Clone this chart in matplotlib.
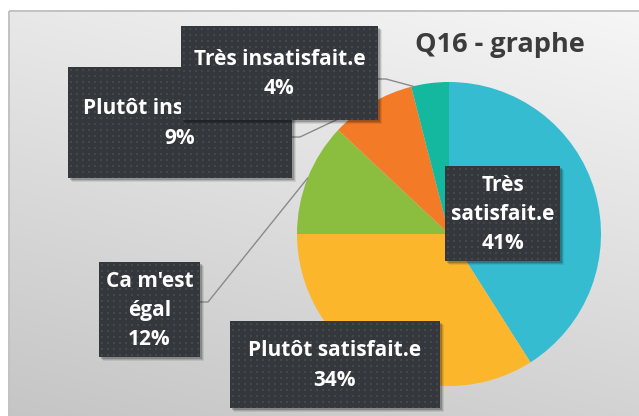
import numpy as np
import matplotlib
matplotlib.use("Agg")
import matplotlib.pyplot as plt
from matplotlib.patches import Rectangle

# ---- data ----
categories = ["Très satisfait.e", "Plutôt satisfait.e", "Ca m'est égal",
              "Plutôt insatisfait.e", "Très insatisfait.e"]
values = [41, 34, 12, 9, 4]
label_text = ["Très\nsatisfait.e", "Plutôt satisfait.e", "Ca m'est\négal",
              "Plutôt insatisfait.e", "Très insatisfait.e"]
colors = ["#35BCD0", "#FBB62C", "#8BBE3F", "#F37A27", "#13B89E"]
title = "Q16 - graphe"

# ---- layout (image pixel coords, y down) ----
W, H = 639, 416
CX, CY, R = 449, 234, 152
boxes = [  # x0, y0, x1, y1
    (445, 166, 560, 261),
    (230, 321, 440, 408),
    (99, 262, 200, 357),
    (68, 67, 292, 178),
    (181, 26, 378, 120),
]
box_z = [20, 20, 20, 14, 24]
leaders = {  # index: (start x, start y, anchor fraction within slice)
    2: (200, 302, 0.5),
    3: (292, 137, 0.5),
    4: (378, 79, 0.05),
}

def Y(y):
    return H - y

fig = plt.figure(figsize=(W / 100, H / 100), dpi=100)
ax = fig.add_axes([0, 0, 1, 1])

# background gradient
yy, xx = np.mgrid[0:H, 0:W]
v = 247 - 14 * (1 - xx / W) - 36 * (yy / H)
bg = np.dstack([v, v, v]) / 255.0
ax.imshow(bg, extent=(0, W, 0, H), origin="upper", zorder=0, interpolation="bilinear")
# white outside frame
ax.add_patch(Rectangle((0, 0), 9, H, facecolor="white", edgecolor="none", zorder=1))
ax.add_patch(Rectangle((0, Y(11)), W, 11, facecolor="white", edgecolor="none", zorder=1))
ax.plot([9, 9], [0, Y(11)], color="#c2c2c2", lw=1.4, zorder=1.5, solid_capstyle="butt")
ax.plot([9, W], [Y(11), Y(11)], color="#c2c2c2", lw=1.4, zorder=1.5, solid_capstyle="butt")

# pie
wedges, _ = ax.pie(values, colors=colors, startangle=90, counterclock=False,
                   center=(CX, Y(CY)), radius=R, wedgeprops=dict(linewidth=0))
for w_ in wedges:
    w_.set_zorder(2)

total = float(sum(values))
cum = np.concatenate([[0], np.cumsum(values)])

# leader lines
for i, (sx, sy, f) in leaders.items():
    th = np.deg2rad(360 * (cum[i] + f * values[i]) / total)
    ex = CX + R * np.sin(th)
    ey = CY - R * np.cos(th)
    ax.plot([sx, sx + 8, ex], [Y(sy), Y(sy), Y(ey)], color="#8a8a8a", lw=1.0, zorder=3)

# pattern image for boxes
def pattern(w, h):
    base = np.array([0x34, 0x37, 0x3b]) / 255.0
    dot = np.array([0x44, 0x47, 0x4c]) / 255.0
    img = np.ones((h, w, 3)) * base
    for yy_ in range(2, h, 6):
        for xx_ in range(2, w, 6):
            img[yy_:yy_ + 2, xx_:xx_ + 2] = dot
    return img

for i in range(len(values)):
    x0, y0, x1, y1 = boxes[i]
    z = box_z[i]
    # soft shadow
    for k, a in [(4, 0.08), (3, 0.12), (2, 0.18)]:
        ax.add_patch(Rectangle((x0 + k, Y(y1) - k), x1 - x0, y1 - y0,
                               facecolor="black", alpha=a, edgecolor="none", zorder=z - 0.5))
    ax.imshow(pattern(int(x1 - x0), int(y1 - y0)), extent=(x0, x1, Y(y1), Y(y0)),
              origin="upper", interpolation="nearest", zorder=z)
    pct = f"{round(100 * values[i] / total):d}%"
    ax.text((x0 + x1) / 2, Y((y0 + y1) / 2 + 1), label_text[i] + "\n" + pct,
            ha="center", va="center", color="white", fontsize=15,
            fontfamily="Open Sans", fontweight="bold", linespacing=1.5, zorder=z + 0.5)

ax.text(500, Y(52), title, ha="center", va="baseline", fontsize=19.5,
        fontfamily="Open Sans", fontweight="bold", color="#3c3c3c", zorder=5)

ax.set_xlim(0, W)
ax.set_ylim(0, H)
ax.set_aspect("auto")
ax.axis("off")
fig.savefig("out.png", dpi=100)
